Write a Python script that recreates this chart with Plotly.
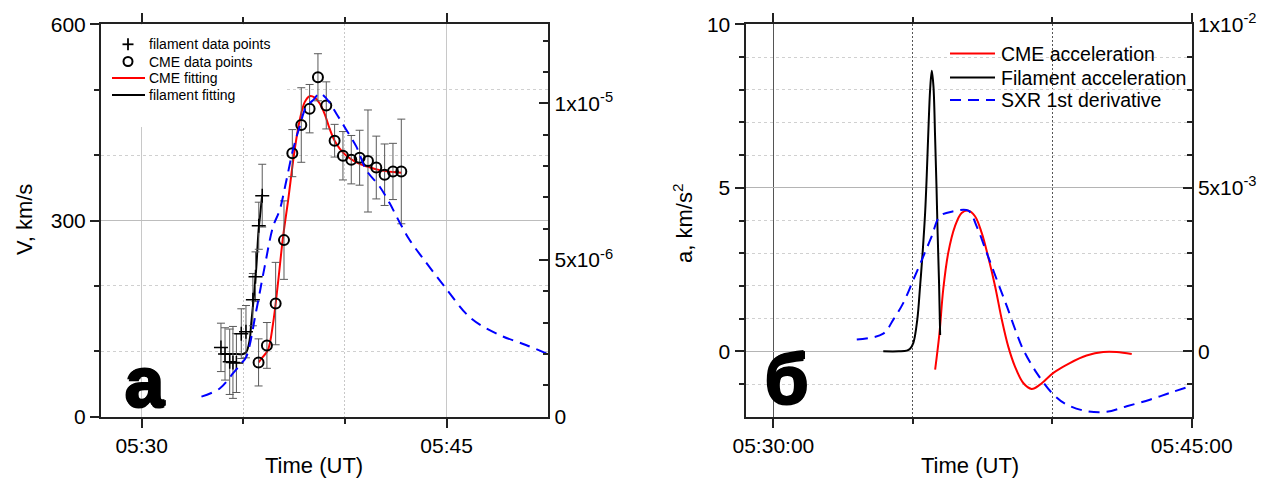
import plotly.graph_objects as go

W, H = 1265, 493

# ---------------- data (time = minutes after 05:30:00 UT) ----------------
# Panel a: filament velocity points
fil_t = [3.90, 4.10, 4.33, 4.49, 4.66, 4.90, 5.13, 5.47, 5.60, 5.76, 5.93]
fil_v = [106, 96, 84, 83, 82, 127, 130, 179, 214, 292, 338]
fil_err = [37, 40, 50, 55, 45, 38, 40, 40, 38, 36, 48]

# Panel a: CME velocity points
cme_t = [5.75, 6.16, 6.59, 7.00, 7.41, 7.85, 8.26, 8.67, 9.08, 9.49, 9.90,
         10.31, 10.72, 11.13, 11.54, 11.95, 12.36, 12.77]
cme_v = [83, 109, 173, 270, 403, 446, 471, 519, 476, 422, 399,
         393, 396, 391, 381, 370, 375, 375]
cme_err = [36, 35, 63, 60, 36, 57, 37, 36, 36, 25, 37,
           37, 42, 78, 48, 47, 43, 80]

# Panel a: fits
cmefit_t = [5.75, 5.95, 6.21, 6.46, 6.70, 6.95, 7.20, 7.52, 7.77, 8.02, 8.26,
            8.51, 8.76, 9.00, 9.25, 9.49, 9.74, 10.07, 10.56, 11.05, 11.71,
            12.36, 12.77]
cmefit_v = [83, 91, 102, 142, 203, 274, 330, 407, 453, 481, 490,
            488, 479, 463, 440, 422, 410, 399, 389, 383, 377,
            374, 373]
filfit_t = [3.90, 4.50, 5.00, 5.15, 5.31, 5.39, 5.50, 5.64, 5.75, 5.85, 5.93]
filfit_v = [96, 96, 96, 99, 117, 143, 178, 229, 285, 315, 340]

# Panel a: SXR flux (right axis)
sxr_t = [2.94, 3.84, 4.49, 4.90, 5.15, 5.64, 6.05, 6.46, 6.79, 7.12, 7.44,
         7.77, 8.10, 8.43, 8.76, 9.08, 9.57, 10.07, 10.56, 11.05, 11.71,
         12.20, 12.69, 13.18, 13.84, 14.90, 16.20, 17.60, 18.90, 19.90]
sxr_v = [0.64e-6, 0.90e-6, 1.38e-6, 1.70e-6, 1.92e-6, 3.40e-6, 4.79e-6,
         6.06e-6, 6.60e-6, 7.55e-6, 8.51e-6, 9.26e-6, 9.90e-6, 10.10e-6,
         10.32e-6, 10.16e-6, 9.68e-6, 9.15e-6, 8.62e-6, 7.87e-6, 7.34e-6,
         6.81e-6, 6.20e-6, 5.64e-6, 5.05e-6, 4.15e-6, 3.14e-6, 2.61e-6,
         2.29e-6, 2.02e-6]

# Panel б: accelerations
filacc_t = [3.94, 4.50, 4.78, 4.90, 5.02, 5.16, 5.26, 5.35, 5.44, 5.50, 5.56,
            5.62, 5.68, 5.74, 5.80, 5.85, 5.89, 5.94, 5.98]
filacc_a = [0.0, 0.0, 0.02, 0.08, 0.26, 0.97, 1.99, 3.0, 4.22, 5.4, 6.8,
            8.0, 8.58, 8.1, 6.5, 5.0, 3.6, 2.1, 0.5]
cmeacc_t = [5.80, 5.95, 6.09, 6.27, 6.51, 6.75, 6.99, 7.23, 7.47, 7.71, 7.95,
            8.19, 8.42, 8.66, 8.96, 9.26, 9.56, 10.04, 10.63, 11.23, 11.83,
            12.31, 12.85]
cmeacc_a = [-0.56, 0.51, 1.89, 3.01, 3.82, 4.23, 4.30, 4.13, 3.62, 2.86, 1.99,
            0.97, 0.15, -0.46, -0.97, -1.15, -1.02, -0.66, -0.36, -0.13, -0.02,
            -0.02, -0.08]
dsxr_t = [2.99, 3.94, 4.30, 4.66, 5.02, 5.38, 5.68, 5.97, 6.45, 6.99, 7.29,
          7.65, 8.01, 8.37, 8.70, 8.96, 9.44, 10.04, 10.52, 11.23, 11.95,
          12.67, 13.50, 14.22, 14.94]
dsxr_v = [0.36e-3, 0.54e-3, 0.97e-3, 1.48e-3, 2.19e-3, 2.91e-3, 3.52e-3,
          4.13e-3, 4.28e-3, 4.30e-3, 3.82e-3, 3.01e-3, 2.19e-3, 1.38e-3,
          0.60e-3, 0.05e-3, -0.66e-3, -1.32e-3, -1.63e-3, -1.83e-3, -1.85e-3,
          -1.68e-3, -1.48e-3, -1.27e-3, -1.07e-3]

# tick labels
left_xticks = [0, 15]
left_xlabels = ["05:30", "05:45"]
right_xticks = [0, 15]
right_xlabels = ["05:30:00", "05:45:00"]
v_ticks = [0, 300, 600]
sxr_ticks = [0, 5e-6, 1e-5]
sxr_labels = ["0", "5x10<sup>-6</sup>", "1x10<sup>-5</sup>"]
a_ticks = [0, 5, 10]
dsxr_ticks = [0, 5e-3, 1e-2]
dsxr_labels = ["0", "5x10<sup>-3</sup>", "1x10<sup>-2</sup>"]

# legend labels
legend_a = ["filament data points", "CME data points", "CME fitting", "filament fitting"]
legend_b = ["CME acceleration", "Filament acceleration", "SXR 1st derivative"]

# ---------------- helpers ----------------
def fx(p):
    return p / W

def fy(p):
    return 1 - p / H

FONT = "Arial, 'Liberation Sans', sans-serif"
AX = "#222222"
RED = "#ff0000"
BLUE = "#0000ff"
DASH = "11px,7px"
DOM_Y = [fy(416.7), fy(24.3)]
DOM_X1 = [fx(101), fx(548.3)]
DOM_X2 = [fx(745.5), fx(1191.7)]

fig = go.Figure()

# ---- panel a ----
fig.add_trace(go.Scatter(x=cmefit_t, y=cmefit_v, mode="lines", name=legend_a[2],
                         xaxis="x", yaxis="y", showlegend=False,
                         line=dict(color=RED, width=2, shape="spline")))
fig.add_trace(go.Scatter(x=filfit_t, y=filfit_v, mode="lines", name=legend_a[3],
                         xaxis="x", yaxis="y", showlegend=False,
                         line=dict(color="black", width=2, shape="spline")))
fig.add_trace(go.Scatter(x=fil_t, y=fil_v, mode="markers", name=legend_a[0],
                         xaxis="x", yaxis="y", showlegend=False,
                         marker=dict(symbol="cross-thin", size=10, color="black",
                                     line=dict(width=1.5, color="black")),
                         error_y=dict(type="data", array=fil_err, color="#5a5a5a",
                                      thickness=1, width=4)))
fig.add_trace(go.Scatter(x=cme_t, y=cme_v, mode="markers", name=legend_a[1],
                         xaxis="x", yaxis="y", showlegend=False,
                         marker=dict(symbol="circle-open", size=10, color="black",
                                     line=dict(width=2, color="black")),
                         error_y=dict(type="data", array=cme_err, color="#5a5a5a",
                                      thickness=1, width=4)))
fig.add_trace(go.Scatter(x=sxr_t, y=sxr_v, mode="lines", name="SXR", showlegend=False,
                         xaxis="x", yaxis="y2",
                         line=dict(color=BLUE, width=2, dash=DASH, shape="spline")))

# ---- panel б ----
fig.add_trace(go.Scatter(x=cmeacc_t, y=cmeacc_a, mode="lines", name=legend_b[0],
                         xaxis="x2", yaxis="y3", showlegend=False,
                         line=dict(color=RED, width=2, shape="spline")))
fig.add_trace(go.Scatter(x=filacc_t, y=filacc_a, mode="lines", name=legend_b[1],
                         xaxis="x2", yaxis="y3", showlegend=False,
                         line=dict(color="black", width=2, shape="spline")))
fig.add_trace(go.Scatter(x=dsxr_t, y=dsxr_v, mode="lines", name=legend_b[2],
                         xaxis="x2", yaxis="y4", showlegend=False,
                         line=dict(color=BLUE, width=2, dash=DASH, shape="spline")))

tickfont = dict(family=FONT, size=21, color="black")

common_x = dict(showline=True, linecolor=AX, linewidth=2, mirror="ticks",
                ticks="outside", ticklen=9, tickwidth=1.5, tickcolor=AX,
                zeroline=False, tickfont=tickfont, showgrid=True, gridwidth=1)

fig.update_layout(
    width=W, height=H, autosize=False,
    margin=dict(l=0, r=0, t=0, b=0),
    template="none",
    paper_bgcolor="white", plot_bgcolor="white",
    font=dict(family=FONT, size=16, color="black"),
    showlegend=False,
    xaxis=dict(domain=DOM_X1, anchor="y", range=[-2, 20],
               tickmode="array", tickvals=left_xticks, ticktext=left_xlabels,
               gridcolor="#c8c8c8",
               minor=dict(tickmode="array", tickvals=[5, 10], ticks="outside",
                          ticklen=5, tickwidth=1.5, tickcolor=AX, showgrid=True,
                          gridcolor="#c8c8c8", griddash="2px,2px", gridwidth=1),
               **common_x),
    yaxis=dict(domain=DOM_Y, anchor="x", range=[0, 600], side="left",
               tickmode="array", tickvals=v_ticks,
               showline=True, linecolor=AX, linewidth=2, mirror=False,
               ticks="outside", ticklen=9, tickwidth=1.5, tickcolor=AX,
               zeroline=False, tickfont=tickfont,
               showgrid=True, gridcolor="#bdbdbd", gridwidth=1,
               minor=dict(tickmode="array", tickvals=[100, 200, 400, 500],
                          ticks="outside", ticklen=5, tickwidth=1.5, tickcolor=AX,
                          showgrid=True, gridcolor="#d0d0d0", griddash="3px,3px",
                          gridwidth=1)),
    yaxis2=dict(overlaying="y", anchor="x", side="right", range=[0, 1.2525e-5],
                tickmode="array", tickvals=sxr_ticks, ticktext=sxr_labels,
                showline=True, linecolor=AX, linewidth=2,
                ticks="inside", ticklen=9, tickwidth=1.5, tickcolor=AX,
                zeroline=False, showgrid=False, tickfont=tickfont,
                minor=dict(tickmode="array",
                           tickvals=[1e-6, 2e-6, 3e-6, 4e-6, 6e-6, 7e-6, 8e-6,
                                     9e-6, 11e-6, 12e-6],
                           ticks="inside", ticklen=5, tickwidth=1.5, tickcolor=AX,
                           showgrid=False)),
    xaxis2=dict(domain=DOM_X2, anchor="y3", range=[-1, 15],
                tickmode="array", tickvals=right_xticks, ticktext=right_xlabels,
                gridcolor="#555555",
                minor=dict(tickmode="array", tickvals=[5, 10], ticks="outside",
                           ticklen=5, tickwidth=1.5, tickcolor=AX, showgrid=True,
                           gridcolor="#555555", griddash="2px,2px", gridwidth=1),
                **common_x),
    yaxis3=dict(domain=DOM_Y, anchor="x2", range=[-2, 10], side="left",
                tickmode="array", tickvals=a_ticks,
                showline=True, linecolor=AX, linewidth=2, mirror=False,
                ticks="outside", ticklen=9, tickwidth=1.5, tickcolor=AX,
                zeroline=False, tickfont=tickfont,
                showgrid=True, gridcolor="#b4b4b4", gridwidth=1,
                minor=dict(tickmode="array", tickvals=[-1, 1, 2, 3, 4, 6, 7, 8, 9],
                           ticks="outside", ticklen=5, tickwidth=1.5, tickcolor=AX,
                           showgrid=True, gridcolor="#d0d0d0", griddash="3px,3px",
                           gridwidth=1)),
    yaxis4=dict(overlaying="y3", anchor="x2", side="right", range=[-2e-3, 1e-2],
                tickmode="array", tickvals=dsxr_ticks, ticktext=dsxr_labels,
                showline=True, linecolor=AX, linewidth=2,
                ticks="inside", ticklen=9, tickwidth=1.5, tickcolor=AX,
                zeroline=False, showgrid=False, tickfont=tickfont,
                minor=dict(tickmode="array",
                           tickvals=[-1e-3, 1e-3, 2e-3, 3e-3, 4e-3, 6e-3, 7e-3,
                                     8e-3, 9e-3],
                           ticks="inside", ticklen=5, tickwidth=1.5, tickcolor=AX,
                           showgrid=False)),
)

shapes = []
# white box behind the left legend (hides grid lines, as in the original)
shapes.append(dict(type="rect", xref="x", yref="y", x0=-2, x1=7.13, y0=443, y1=600,
                   fillcolor="white", line=dict(width=0), layer="between"))

def pline(x0, x1, y, color, dash="solid", width=2):
    return dict(type="line", xref="paper", yref="paper",
                x0=fx(x0), x1=fx(x1), y0=fy(y), y1=fy(y),
                line=dict(color=color, width=width, dash=dash), layer="above")

# ---- legend of panel a (drawn by hand: tight rows as in the original) ----
la_rows = [44.3, 61.5, 78.0, 95.0]
la_sym_x = 128
# cross symbol
shapes.append(pline(la_sym_x - 5.5, la_sym_x + 5.5, la_rows[0], "black", width=1.8))
shapes.append(dict(type="line", xref="paper", yref="paper",
                   x0=fx(la_sym_x), x1=fx(la_sym_x),
                   y0=fy(la_rows[0] - 6), y1=fy(la_rows[0] + 6),
                   line=dict(color="black", width=1.8), layer="above"))
# circle symbol
shapes.append(dict(type="circle", xref="paper", yref="paper",
                   x0=fx(la_sym_x - 4.5), x1=fx(la_sym_x + 4.5),
                   y0=fy(la_rows[1] + 4.5), y1=fy(la_rows[1] - 4.5),
                   line=dict(color="black", width=2), layer="above"))
shapes.append(pline(112, 145, la_rows[2], RED))
shapes.append(pline(112, 145, la_rows[3], "black"))

# ---- legend of panel б ----
lb_rows = [53.5, 77.5, 100.0]
shapes.append(pline(950, 995, lb_rows[0], RED))
shapes.append(pline(950, 995, lb_rows[1], "black"))
shapes.append(pline(950, 995, lb_rows[2], BLUE, dash=DASH))

fig.update_layout(shapes=shapes)

title_font = dict(family=FONT, size=22, color="black")
panel_font = dict(family="'Liberation Sans', Arial, sans-serif", size=70, color="black",
                  weight="bold",
                  shadow="1.5px 0 0 #000, -1.5px 0 0 #000, 0 1.5px 0 #000, 0 -1.5px 0 #000")
leg_a_font = dict(family=FONT, size=14, color="black")
leg_b_font = dict(family=FONT, size=19.5, color="black")

annotations = [
    dict(text="V, km/s", x=fx(25), y=fy(220), textangle=-90, font=title_font),
    dict(text="Time (UT)", x=fx(314), y=fy(465), font=title_font),
    dict(text="a, km/s<sup>2</sup>", x=fx(683), y=fy(224), textangle=-90, font=title_font),
    dict(text="Time (UT)", x=fx(970), y=fy(465), font=title_font),
    dict(text="а", x=fx(145), y=fy(382), font=panel_font),
    dict(text="б", x=fx(786), y=fy(379), font=panel_font),
]
for a in annotations:
    a.update(xanchor="center", yanchor="middle")
for lbl, yy in zip(legend_a, la_rows):
    annotations.append(dict(text=lbl, x=fx(147), y=fy(yy), font=leg_a_font,
                            xanchor="left", yanchor="middle"))
for lbl, yy in zip(legend_b, lb_rows):
    annotations.append(dict(text=lbl, x=fx(999), y=fy(yy), font=leg_b_font,
                            xanchor="left", yanchor="middle"))
for a in annotations:
    a.update(xref="paper", yref="paper", showarrow=False)
fig.update_layout(annotations=annotations)

fig.write_html("out.html")
